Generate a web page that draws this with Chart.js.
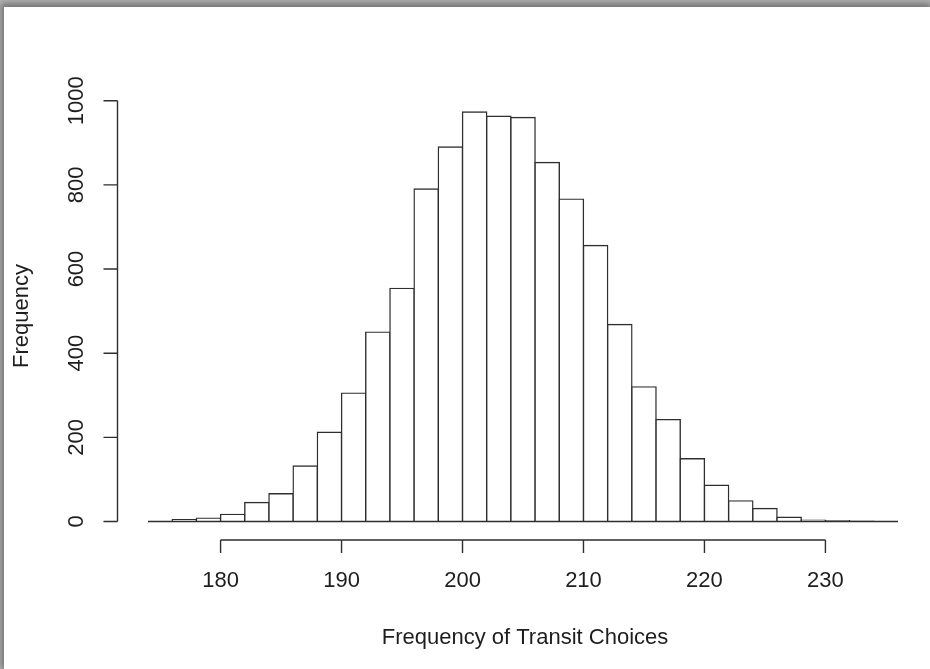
<!DOCTYPE html>
<html>
<head>
<meta charset="utf-8">
<title>Frequency of Transit Choices</title>
<script src="https://cdn.jsdelivr.net/npm/chart.js@4.4.1/dist/chart.umd.min.js"></script>
<style>
  html, body { margin: 0; padding: 0; width: 930px; height: 669px; overflow: hidden; background: #b4b4b4; }
  #frame {
    position: absolute; left: 4px; top: 7px; right: 0; bottom: 0;
    background: #fff;
    box-shadow: -1px -2px 6px 2px rgba(0,0,0,0.35);
  }
  #hist { position: absolute; left: 0; top: 0; z-index: 1; }
</style>
</head>
<body>
<div id="frame"></div>
<canvas id="hist" width="930" height="669"></canvas>
<script>
// ─── Data ────────────────────────────────────────────────
const binLow  = [176, 178, 180, 182, 184, 186, 188, 190, 192, 194, 196, 198, 200, 202, 204,
                 206, 208, 210, 212, 214, 216, 218, 220, 222, 224, 226, 228, 230, 232];
const counts  = [4, 8, 17, 45, 66, 132, 212, 305, 450, 554, 790, 890, 973, 963, 960,
                 853, 766, 656, 468, 320, 242, 149, 86, 49, 31, 10, 3, 2, 1];
const binWidth = 2;
const xTicks  = [180, 190, 200, 210, 220, 230];
const yTicks  = [0, 200, 400, 600, 800, 1000];
const xTitle  = 'Frequency of Transit Choices';
const yTitle  = 'Frequency';

// ─── Look ────────────────────────────────────────────────
const INK  = '#2e2e2e';
const LINE = 1.4;
const FONT = '22px "Liberation Sans", Arial, sans-serif';

// R-style detached axes, baseline and axis titles
const rAxes = {
  id: 'rAxes',
  afterDatasetsDraw(chart) {
    const { ctx, scales: { x, y } } = chart;
    ctx.save();
    ctx.strokeStyle = INK;
    ctx.lineWidth = LINE;
    ctx.fillStyle = '#1e1e1e';
    ctx.font = FONT;

    // baseline under the bars
    const y0 = y.getPixelForValue(0);
    ctx.beginPath();
    ctx.moveTo(x.getPixelForValue(174), y0);
    ctx.lineTo(x.getPixelForValue(236), y0);
    ctx.stroke();

    // x axis
    const ax = 540, tickLen = 13;
    ctx.beginPath();
    ctx.moveTo(x.getPixelForValue(xTicks[0]), ax);
    ctx.lineTo(x.getPixelForValue(xTicks[xTicks.length - 1]), ax);
    xTicks.forEach(v => {
      const px = x.getPixelForValue(v);
      ctx.moveTo(px, ax);
      ctx.lineTo(px, ax + tickLen);
    });
    ctx.stroke();
    ctx.textAlign = 'center';
    ctx.textBaseline = 'middle';
    xTicks.forEach(v => ctx.fillText(String(v), x.getPixelForValue(v), 581));
    ctx.fillText(xTitle, (chart.chartArea.left + chart.chartArea.right) / 2 + 2, 638);

    // y axis
    const ay = 117.5;
    ctx.beginPath();
    ctx.moveTo(ay, y.getPixelForValue(yTicks[0]));
    ctx.lineTo(ay, y.getPixelForValue(yTicks[yTicks.length - 1]));
    yTicks.forEach(v => {
      const py = y.getPixelForValue(v);
      ctx.moveTo(ay, py);
      ctx.lineTo(ay - 14, py);
    });
    ctx.stroke();
    yTicks.forEach(v => {
      ctx.save();
      ctx.translate(77, y.getPixelForValue(v));
      ctx.rotate(-Math.PI / 2);
      ctx.fillText(String(v), 0, 0);
      ctx.restore();
    });
    ctx.save();
    ctx.translate(22, 316);
    ctx.rotate(-Math.PI / 2);
    ctx.fillText(yTitle, 0, 0);
    ctx.restore();

    ctx.restore();
  }
};

// ─── Chart ───────────────────────────────────────────────
new Chart(document.getElementById('hist').getContext('2d'), {
  type: 'bar',
  data: {
    datasets: [{
      data: binLow.map((lo, i) => ({ x: lo + binWidth / 2, y: counts[i] })),
      backgroundColor: '#ffffff',
      borderColor: INK,
      borderWidth: LINE,
      inflateAmount: LINE / 2,
      borderSkipped: 'start',
      barPercentage: 1,
      categoryPercentage: 1
    }]
  },
  options: {
    responsive: false,
    devicePixelRatio: 1,
    animation: false,
    layout: { padding: { left: 148, right: 32, top: 100.7, bottom: 147.5 } },
    plugins: { legend: { display: false }, tooltip: { enabled: false } },
    scales: {
      x: { type: 'linear', min: 174, max: 236, offset: false, display: false,
           ticks: { stepSize: 10 } },
      y: { min: 0, max: 1000, display: false, ticks: { stepSize: 200 } }
    }
  },
  plugins: [rAxes]
});
</script>
</body>
</html>
